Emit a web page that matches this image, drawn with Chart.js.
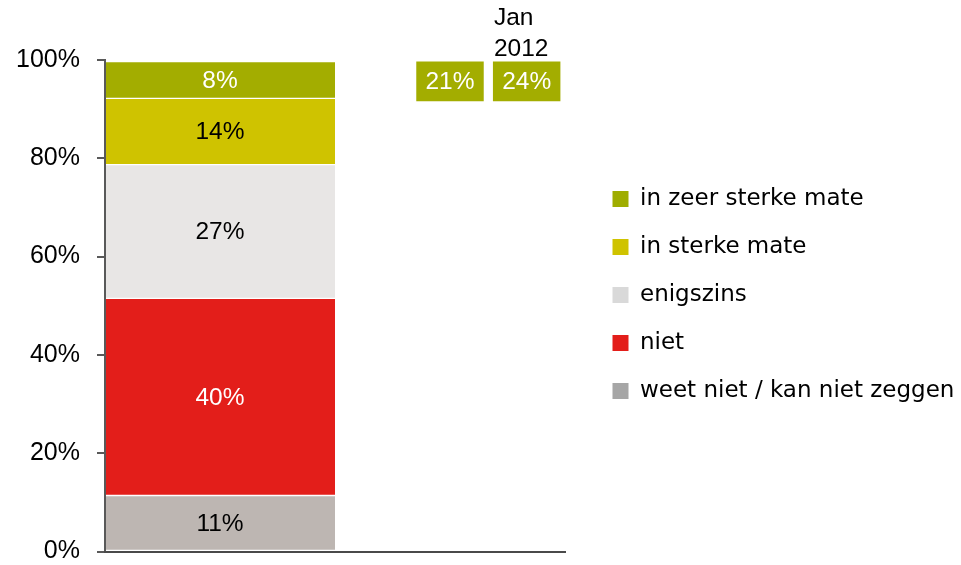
<!DOCTYPE html>
<html>
<head>
<meta charset="utf-8">
<script src="https://cdn.jsdelivr.net/npm/chart.js@4/dist/chart.umd.min.js"></script>
<style>
html,body{margin:0;padding:0;background:#ffffff;}
#wrap{width:961px;height:565px;position:relative;}
</style>
</head>
<body>
<div id="wrap"><canvas id="c" width="961" height="565"></canvas></div>
<script>
// ---------------- DATA ----------------
const categories = ['', ''];
const seriesNames = ['weet niet / kan niet zeggen', 'niet', 'enigszins', 'in sterke mate', 'in zeer sterke mate'];
const weetNiet  = [11.4, null];
const niet      = [40.1, null];
const enigszins = [27.2, null];
const sterk     = [13.5, null];
const zeerSterk = [7.5,  null];
const compareValues  = [21, 24];
const compareHeaders = [[], ['Jan', '2012']];
const yTickValues = [0, 20, 40, 60, 80, 100];

// ---------------- STYLE / LAYOUT ----------------
const FONT = '"Liberation Sans", Arial, Helvetica, sans-serif';
const barColors    = ['#bdb6b2', '#e31e1a', '#e8e6e5', '#cfc300', '#a3ad00'];
const legendColors = ['#a6a6a6', '#e31e1a', '#d9d9d9', '#cfc300', '#9fad00'];
const labelColors  = ['#000000', '#ffffff', '#000000', '#000000', '#ffffff'];
const CALLOUT_SLOTS = 6;
const calloutSlot = [4, 5];
const CALLOUT_RANGE = [91.6, 99.7];
const calloutColor = '#a3ad00';

const seriesValues = [weetNiet, niet, enigszins, sterk, zeerSterk];

const datasets = seriesValues.map((vals, i) => ({
  label: seriesNames[i],
  data: vals,
  backgroundColor: barColors[i],
  borderColor: '#ffffff',
  borderWidth: {top: 1, bottom: 1, left: 0, right: 0},
  borderSkipped: false,
  xAxisID: 'x',
  stack: 'main',
  grouped: false,
  barPercentage: 1,
  categoryPercentage: 1,
  labelColor: labelColors[i],
  labelText: vals.map(v => v == null ? '' : Math.round(v) + '%'),
  header: vals.map(() => [])
}));

compareValues.forEach((v, k) => {
  const data = new Array(CALLOUT_SLOTS).fill(null);
  data[calloutSlot[k]] = CALLOUT_RANGE.slice();
  const labelText = new Array(CALLOUT_SLOTS).fill('');
  labelText[calloutSlot[k]] = v + '%';
  const header = new Array(CALLOUT_SLOTS).fill(null).map(() => []);
  header[calloutSlot[k]] = compareHeaders[k];
  datasets.push({
    label: '',
    isCallout: true,
    data: data,
    backgroundColor: calloutColor,
    borderWidth: 0,
    xAxisID: 'x2',
    stack: 'cmp',
    grouped: false,
    barPercentage: 0.88,
    categoryPercentage: 1,
    labelColor: '#ffffff',
    labelText: labelText,
    header: header
  });
});

const valueLabels = {
  id: 'valueLabels',
  afterDatasetsDraw(chart) {
    const ctx = chart.ctx;
    ctx.save();
    ctx.textBaseline = 'middle';
    chart.data.datasets.forEach((ds, di) => {
      const meta = chart.getDatasetMeta(di);
      meta.data.forEach((el, i) => {
        if (ds.data[i] == null) return;
        const p = el.getProps(['x', 'y', 'base', 'width'], true);
        const top = Math.min(p.y, p.base), bottom = Math.max(p.y, p.base);
        ctx.font = '24.5px ' + FONT;
        ctx.textAlign = 'center';
        ctx.fillStyle = ds.labelColor;
        ctx.fillText(ds.labelText[i], p.x, (top + bottom) / 2 + 1);
        const lines = ds.header[i] || [];
        ctx.fillStyle = '#000000';
        ctx.textAlign = 'left';
        for (let j = 0; j < lines.length; j++) {
          const fromBottom = lines.length - 1 - j;
          ctx.fillText(lines[j], p.x - p.width / 2 + 1, top - 12.5 - fromBottom * 31);
        }
      });
    });
    ctx.restore();
  }
};

Chart.defaults.font.family = FONT;
Chart.defaults.color = '#000000';

new Chart(document.getElementById('c'), {
  type: 'bar',
  data: { labels: categories, datasets: datasets },
  options: {
    responsive: false,
    animation: false,
    events: [],
    layout: { padding: { top: 60, bottom: 13.5, left: 0, right: 0 } },
    scales: {
      x: {
        type: 'category',
        stacked: true,
        position: 'bottom',
        grid: { display: false, drawTicks: false },
        ticks: { display: false },
        border: { display: true, color: '#4a4a4a', width: 2, z: 2 }
      },
      x2: {
        type: 'category',
        labels: new Array(CALLOUT_SLOTS).fill(''),
        stacked: true,
        display: false
      },
      y: {
        type: 'linear',
        stacked: true,
        min: 0,
        max: 100,
        position: 'left',
        afterBuildTicks: (s) => { s.ticks = yTickValues.map(v => ({ value: v })); },
        afterFit: (s) => { s.width = 105; s.paddingTop = 0; s.paddingBottom = 0; },
        ticks: {
          callback: (v) => v + '%',
          font: { size: 25, family: FONT },
          color: '#000000',
          padding: 17
        },
        grid: { display: true, drawOnChartArea: false, drawTicks: true, tickLength: 8, color: '#595959', lineWidth: 2, z: 1 },
        border: { display: true, color: '#595959', width: 2, z: 1 }
      },
      yR: {
        type: 'linear',
        position: 'right',
        display: true,
        grid: { display: false, drawTicks: false },
        ticks: { display: false },
        border: { display: false },
        afterFit: (s) => { s.width = 22.5; }
      }
    },
    plugins: {
      tooltip: { enabled: false },
      title: { display: false },
      legend: {
        display: true,
        position: 'right',
        align: 'start',
        reverse: true,
        maxWidth: 373.5,
        title: { display: true, text: '', padding: { top: 44, bottom: 44 }, font: { size: 12 } },
        labels: {
          boxWidth: 16,
          boxHeight: 16,
          padding: 25,
          color: '#000000',
          font: { size: 23, family: '"DejaVu Sans", Verdana, sans-serif' },
          generateLabels(chart) {
            const items = Chart.defaults.plugins.legend.labels.generateLabels(chart);
            return items
              .filter(it => !chart.data.datasets[it.datasetIndex].isCallout)
              .map(it => Object.assign({}, it, {
                fillStyle: legendColors[it.datasetIndex],
                strokeStyle: legendColors[it.datasetIndex],
                lineWidth: 0
              }));
          }
        }
      }
    }
  },
  plugins: [valueLabels]
});
</script>
</body>
</html>
